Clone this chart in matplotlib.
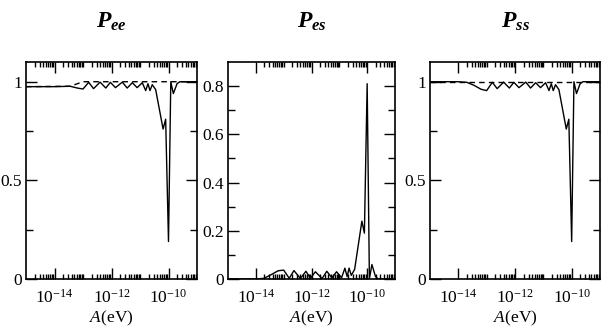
import matplotlib
matplotlib.use("Agg")
import matplotlib.pyplot as plt
from matplotlib.ticker import FixedLocator, NullFormatter, LogFormatterSciNotation
import numpy as np

plt.rcParams['font.family'] = ['Liberation Serif', 'DejaVu Serif']
plt.rcParams['mathtext.fontset'] = 'custom'
plt.rcParams['mathtext.rm'] = 'Liberation Serif'
plt.rcParams['mathtext.it'] = 'Liberation Serif:italic'
plt.rcParams['mathtext.bf'] = 'Liberation Serif:bold:italic'

# log10 of A (eV)
logA = [-15.0, -14.0, -13.7, -13.45, -13.2, -13.0, -12.8, -12.63, -12.4, -12.2,
        -12.04, -11.86, -11.62, -11.45, -11.27, -11.1, -10.92, -10.8, -10.72, -10.65,
        -10.57, -10.45, -10.19, -10.1, -10.0, -9.92, -9.83, -9.7, -9.6, -9.0]

P_ee = [0.975, 0.975, 0.976, 0.977, 0.968, 0.963, 0.997, 0.965, 0.998, 0.968,
        0.997, 0.970, 0.998, 0.968, 0.995, 0.970, 0.995, 0.955, 0.990, 0.955,
        0.985, 0.960, 0.760, 0.810, 0.190, 1.000, 0.940, 0.990, 1.000, 1.000]

P_es = [0.0, 0.0, 0.003, 0.018, 0.034, 0.037, 0.003, 0.035, 0.002, 0.032,
        0.003, 0.030, 0.002, 0.032, 0.005, 0.030, 0.005, 0.045, 0.010, 0.045,
        0.015, 0.040, 0.240, 0.190, 0.810, 0.000, 0.060, 0.010, 0.000, 0.000]

P_ss = [1.000, 1.000, 0.997, 0.982, 0.962, 0.955, 0.997, 0.965, 0.998, 0.968,
        0.997, 0.970, 0.998, 0.968, 0.995, 0.970, 0.995, 0.955, 0.990, 0.955,
        0.985, 0.960, 0.760, 0.810, 0.190, 1.000, 0.940, 0.990, 1.000, 1.000]

# averaged (dashed) curves
avg_logA_ee = [-15.0, -13.45, -13.0, -9.0]
avg_ee = [0.975, 0.977, 1.0, 1.0]
avg_logA = [-15.0, -9.0]
avg_es = [0.0, 0.0]
avg_ss = [1.0, 1.0]

titles = [r'$\mathbf{P_{ee}}$', r'$\mathbf{P_{es}}$', r'$\mathbf{P_{ss}}$']
xlabel = r'$A$(eV)'
ylims = [(0, 1.1), (0, 0.9), (0, 1.1)]
yticks_major = [[0, 0.5, 1], [0, 0.2, 0.4, 0.6, 0.8], [0, 0.5, 1]]
yticks_minor = [[0.25, 0.75], [0.1, 0.3, 0.5, 0.7], [0.25, 0.75]]
ytick_labels = [['0', '0.5', '1'], ['0', '0.2', '0.4', '0.6', '0.8'], ['0', '0.5', '1']]

fig = plt.figure(figsize=(6.02, 3.27), dpi=100)
W, H = 602.0, 327.0
boxes = [(26, 197), (228, 395), (430, 600)]
top_px, bot_px = 62, 279

solid = [P_ee, P_es, P_ss]
dashed = [(avg_logA_ee, avg_ee), (avg_logA, avg_es), (avg_logA, avg_ss)]

for i, (l, r) in enumerate(boxes):
    ax = fig.add_axes([l / W, 1 - bot_px / H, (r - l) / W, (bot_px - top_px) / H])
    ax.set_xscale('log')
    xs = [10.0 ** v for v in logA]
    dx, dy = dashed[i]
    ax.plot([10.0 ** v for v in dx], dy, color='black', lw=1.0, ls=(0, (4, 3)), zorder=2)
    ax.plot(xs, solid[i], color='black', lw=1.0, zorder=3)
    ax.set_xlim(1e-15, 1e-9)
    ax.set_ylim(*ylims[i])
    ax.xaxis.set_major_locator(FixedLocator([1e-14, 1e-12, 1e-10]))
    start = -15 if i == 0 else -14
    minors = []
    for d in range(start, -9):
        for m in range(1, 10):
            v = m * 10.0 ** d
            if m == 1 and d in (-15, -14, -12, -10):
                continue
            minors.append(v)
    ax.xaxis.set_minor_locator(FixedLocator(minors))
    ax.xaxis.set_minor_formatter(NullFormatter())
    ax.xaxis.set_major_formatter(LogFormatterSciNotation())
    ax.set_yticks(yticks_major[i])
    ax.set_yticklabels(ytick_labels[i])
    ax.set_yticks(yticks_minor[i], minor=True)
    ax.tick_params(which='both', direction='in', top=True, right=True, labelsize=12.5, width=1.0)
    ax.tick_params(axis='x', which='major', length=8, pad=7)
    ax.tick_params(axis='x', which='minor', length=3.5)
    ax.tick_params(axis='y', which='major', length=8, pad=3)
    ax.tick_params(axis='y', which='minor', length=5)
    for s in ax.spines.values():
        s.set_linewidth(1.2)
    fig.text((l + r) / 2 / W, 1 - 322 / H, xlabel, fontsize=12.5, ha='center', va='baseline')
    fig.text((l + r) / 2 / W, 1 - 22 / H, titles[i], fontsize=17, ha='center', va='center')

fig.savefig('out.png', dpi=100)
